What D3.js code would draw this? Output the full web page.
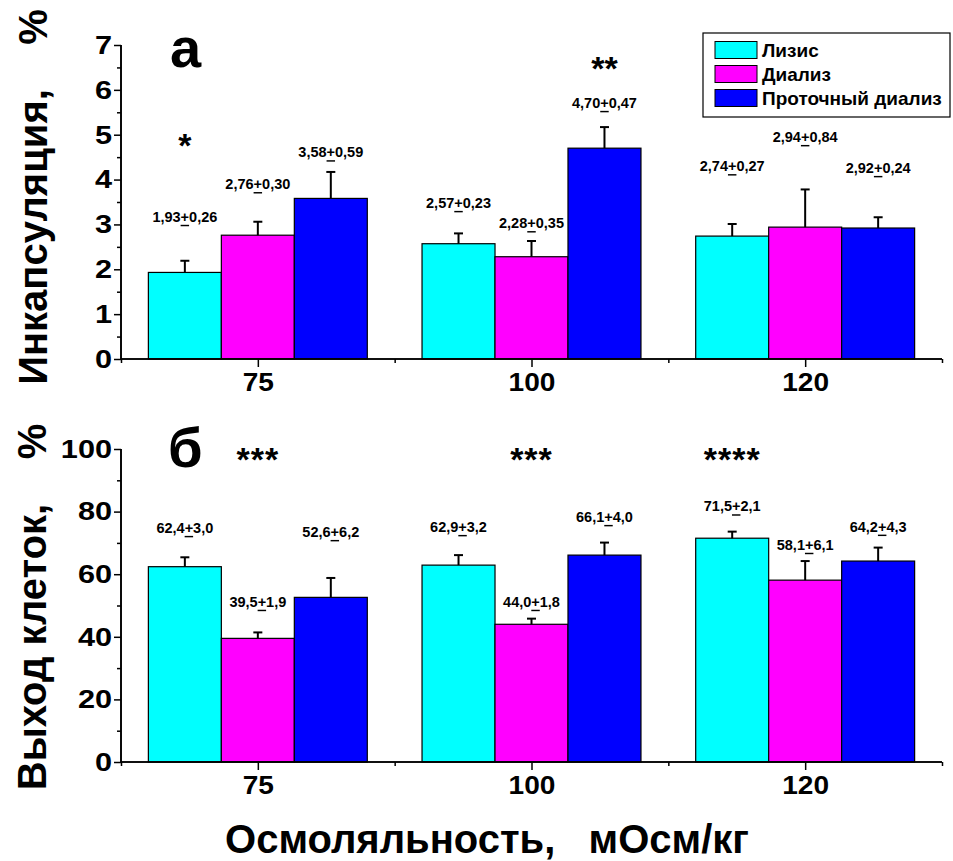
<!DOCTYPE html>
<html>
<head>
<meta charset="utf-8">
<script src="https://cdn.jsdelivr.net/npm/d3@7"></script>
<style>
  html, body { margin: 0; padding: 0; background: #fff; }
  svg { display: block; font-family: "Liberation Sans", Arial, sans-serif; font-weight: bold; }
</style>
</head>
<body>
<svg id="chart" width="953" height="861"></svg>
<script>
// ---------- data ----------
const categories = ["75", "100", "120"];
const seriesNames = ["Лизис", "Диализ", "Проточный диализ"];
const seriesColors = ["#00FFFF", "#FF00FF", "#0000FF"];

// Panel а: Инкапсуляция, %
const encapMean = [[1.93, 2.76, 3.58], [2.57, 2.28, 4.70], [2.74, 2.94, 2.92]];
const encapErr  = [[0.26, 0.30, 0.59], [0.23, 0.35, 0.47], [0.27, 0.84, 0.24]];
const encapTicks = [0, 1, 2, 3, 4, 5, 6, 7];
// label levels (in data units) where the value annotations sit
const encapLabelAt = [[3.17, 3.90, 4.61], [3.48, 3.03, 5.71], [4.30, 4.95, 4.26]];
const encapStars = [
  { group: 0, series: 0, text: "*", at: 4.95 },
  { group: 1, series: 2, text: "**", at: 6.67 }
];

// Panel б: Выход клеток, %
const yieldMean = [[62.4, 39.5, 52.6], [62.9, 44.0, 66.1], [71.5, 58.1, 64.2]];
const yieldErr  = [[3.0, 1.9, 6.2], [3.2, 1.8, 4.0], [2.1, 6.1, 4.3]];
const yieldTicks = [0, 20, 40, 60, 80, 100];
const yieldLabelAt = [[74.8, 51.2, 73.5], [75.1, 51.2, 78.3], [81.7, 69.4, 75.2]];
const yieldStars = [
  { group: 0, series: 1, text: "***", at: 99.4 },
  { group: 1, series: 1, text: "***", at: 99.4 },
  { group: 2, series: 0, text: "****", at: 99.4 }
];

// ---------- layout ----------
const svg = d3.select("#chart");
const xLeft = 121, xRight = 942;

const x = d3.scaleLinear().domain([0.5, 3.5]).range([xLeft, xRight]);
const groupWidth = 0.8;
const barW = groupWidth / 3;

function fmt(v, digits) {
  return v.toFixed(digits).replace(".", ",");
}

function drawPanel(opts) {
  const { means, errs, ticks, minorTicks, yDomain, yRange, labelAt, stars, digits, letter, letterPos, title, titleX, titleY } = opts;
  const y = d3.scaleLinear().domain(yDomain).range(yRange);
  const g = svg.append("g");

  // bars
  means.forEach((grp, gi) => {
    grp.forEach((v, si) => {
      const x0 = x(gi + 1 - groupWidth / 2 + si * barW);
      const x1 = x(gi + 1 - groupWidth / 2 + (si + 1) * barW);
      g.append("rect")
        .attr("x", x0).attr("y", y(v))
        .attr("width", x1 - x0).attr("height", y(0) - y(v))
        .attr("fill", seriesColors[si])
        .attr("stroke", "#000").attr("stroke-width", 1.2);
      // error bar
      const cx = x(gi + 1 - groupWidth / 2 + (si + 0.5) * barW);
      const top = y(v + errs[gi][si]);
      g.append("line").attr("x1", cx).attr("x2", cx).attr("y1", y(v)).attr("y2", top)
        .attr("stroke", "#000").attr("stroke-width", 2);
      g.append("line").attr("x1", cx - 4.5).attr("x2", cx + 4.5).attr("y1", top).attr("y2", top)
        .attr("stroke", "#000").attr("stroke-width", 2);
      // annotation  mean +(underlined) err
      const t = g.append("text")
        .attr("x", cx).attr("y", y(labelAt[gi][si]))
        .attr("text-anchor", "middle").attr("dominant-baseline", "central")
        .attr("font-size", 14.5);
      t.append("tspan").text(fmt(v, digits));
      t.append("tspan").style("text-decoration", "underline").text("+");
      t.append("tspan").text(fmt(errs[gi][si], digits));
    });
  });

  // stars
  stars.forEach(s => {
    const cx = x(s.group + 1 - groupWidth / 2 + (s.series + 0.5) * barW);
    g.append("text")
      .attr("x", cx).attr("y", y(s.at) + 20)
      .attr("text-anchor", "middle")
      .attr("font-size", 34)
      .attr("letter-spacing", s.text.length > 2 ? 1 : 0)
      .text(s.text);
  });

  // y axis
  const yAxis = d3.axisLeft(y).tickValues(ticks).tickSize(7).tickPadding(2).tickFormat(d3.format("d"));
  const ya = g.append("g").attr("transform", `translate(${xLeft},0)`).call(yAxis);
  const yMinor = d3.axisLeft(y).tickValues(minorTicks).tickSize(4).tickFormat("");
  const ym = g.append("g").attr("transform", `translate(${xLeft},0)`).call(yMinor);
  [ya, ym].forEach(a => {
    a.select(".domain").attr("stroke-width", 1.6).attr("d", `M0,${yRange[0]}V${yRange[1]}`);
    a.selectAll(".tick line").attr("stroke-width", 1.5);
  });
  const sx = 1.18;
  ya.selectAll(".tick text").attr("font-size", 26).attr("font-weight", "bold")
    .attr("font-family", '"Liberation Sans", Arial, sans-serif').attr("fill", "#000")
    .attr("x", -9 / sx).attr("transform", `scale(${sx},1)`);

  // x axis
  const xAxis = d3.axisBottom(x).tickValues([1, 2, 3]).tickSize(8).tickPadding(6)
    .tickFormat((d, i) => categories[i]);
  const xa = g.append("g").attr("transform", `translate(0,${yRange[0]})`).call(xAxis);
  const xMinor = d3.axisBottom(x).tickValues([0.5, 1.5, 2.5, 3.5]).tickSize(4).tickFormat("");
  const xm = g.append("g").attr("transform", `translate(0,${yRange[0]})`).call(xMinor);
  [xa, xm].forEach(a => {
    a.select(".domain").attr("stroke-width", 1.6).attr("d", `M${xLeft},0H${xRight}`);
    a.selectAll(".tick line").attr("stroke-width", 1.5);
  });
  xa.selectAll(".tick text").attr("font-size", 26).attr("font-weight", "bold")
    .attr("font-family", '"Liberation Sans", Arial, sans-serif').attr("fill", "#000")
    .attr("transform", "scale(1.08,1)");

  // panel letter
  g.append("text").attr("x", letterPos[0]).attr("y", letterPos[1])
    .attr("font-size", 56).text(letter);

  // y title
  g.append("text")
    .attr("transform", `translate(${titleX},${titleY}) rotate(-90)`)
    .attr("text-anchor", "middle")
    .attr("font-size", 40)
    .text(title);
}

drawPanel({
  means: encapMean, errs: encapErr, ticks: encapTicks,
  minorTicks: [0.5, 1.5, 2.5, 3.5, 4.5, 5.5, 6.5],
  yDomain: [0, 7], yRange: [359, 45],
  labelAt: encapLabelAt, stars: encapStars, digits: 2,
  letter: "а", letterPos: [170, 67],
  title: "Инкапсуляция,\u00A0\u00A0\u00A0\u00A0%", titleX: 47, titleY: 197
});

drawPanel({
  means: yieldMean, errs: yieldErr, ticks: yieldTicks,
  minorTicks: [10, 30, 50, 70, 90],
  yDomain: [0, 100], yRange: [762, 449],
  labelAt: yieldLabelAt, stars: yieldStars, digits: 1,
  letter: "б", letterPos: [168, 467],
  title: "Выход клеток,\u00A0\u00A0\u00A0\u00A0%", titleX: 46, titleY: 607
});

// x title
svg.append("text")
  .attr("x", 487).attr("y", 853)
  .attr("text-anchor", "middle")
  .attr("font-size", 40)
  .text("Осмоляльность,\u00A0\u00A0\u00A0мОсм/кг");

// legend
const leg = svg.append("g");
leg.append("rect").attr("x", 703).attr("y", 33).attr("width", 247).attr("height", 84)
  .attr("fill", "#fff").attr("stroke", "#000").attr("stroke-width", 1.2);
seriesNames.forEach((n, i) => {
  const cy = 50 + i * 24;
  leg.append("rect").attr("x", 715).attr("y", cy - 8.5).attr("width", 42).attr("height", 17)
    .attr("fill", seriesColors[i]).attr("stroke", "#000").attr("stroke-width", 1);
  leg.append("text").attr("x", 762).attr("y", cy).attr("dominant-baseline", "central")
    .attr("font-size", 19).text(n);
});
</script>
</body>
</html>
